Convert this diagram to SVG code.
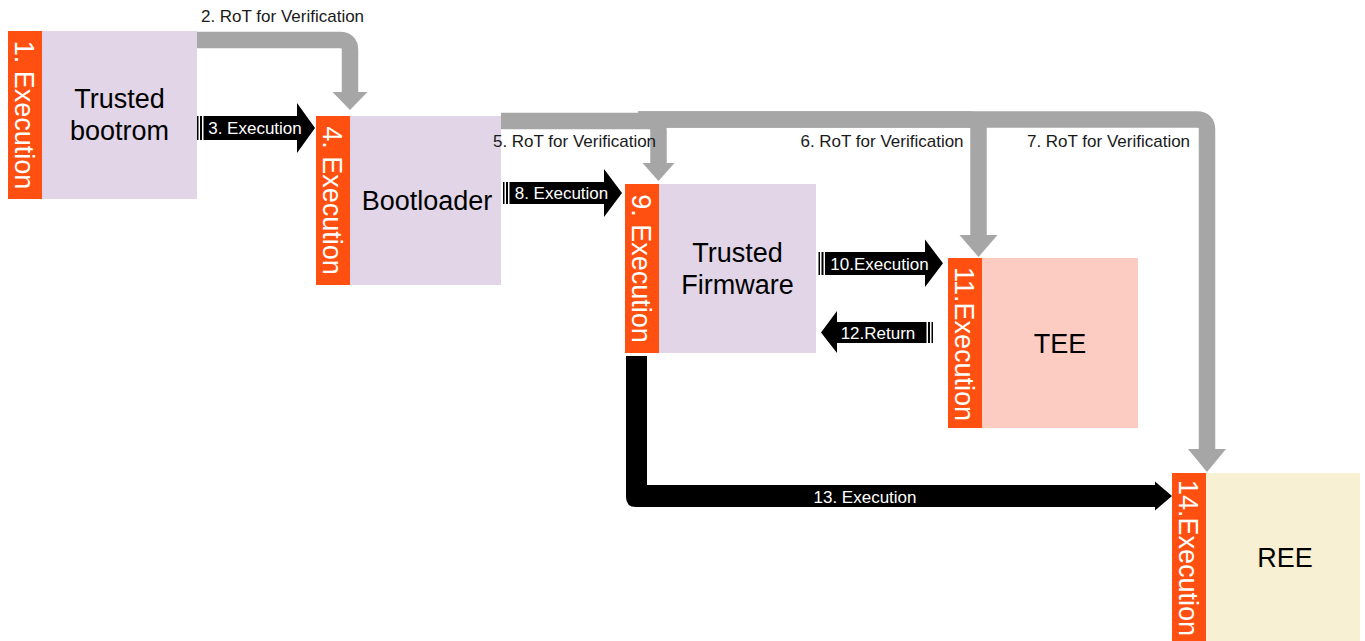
<svg xmlns="http://www.w3.org/2000/svg" width="1365" height="641" viewBox="0 0 1365 641">
<style>
text{font-family:"Liberation Sans",Arial,sans-serif}
.bar{fill:#FF5011}
.lav{fill:#E1D5E7}
.tee{fill:#FCCCC2}
.ree{fill:#F7F0D2}
.title{font-size:27px;fill:#000;text-anchor:middle}
.vl{font-size:27px;fill:#fff;text-anchor:middle}
.lbl{font-size:17px;fill:#1a1a1a;text-anchor:middle}
.wl{font-size:17px;fill:#fff;text-anchor:middle}
.g{fill:none;stroke:#A6A6A6;stroke-width:16.5}
.gh{fill:#A6A6A6}
.b{fill:#000}
</style>
<rect width="1365" height="641" fill="#fff"/>
<g id="n1">
  <rect class="lav" x="42" y="31" width="155" height="168"/>
  <rect class="bar" x="8" y="31" width="34" height="168"/>
  <text class="vl" transform="translate(25,115) rotate(90)" x="0" y="10">1. Execution</text>
  <text class="title" x="119.5" y="108">Trusted</text>
  <text class="title" x="119.5" y="140">bootrom</text>
</g>
<g id="n4">
  <rect class="lav" x="350" y="116" width="151" height="169"/>
  <rect class="bar" x="316" y="116" width="34" height="169"/>
  <text class="vl" transform="translate(333,200.5) rotate(90)" x="0" y="10">4. Execution</text>
  <text class="title" x="427" y="210">Bootloader</text>
</g>
<g id="n9">
  <rect class="lav" x="659" y="184" width="157" height="169"/>
  <rect class="bar" x="625" y="184" width="34" height="169"/>
  <text class="vl" transform="translate(642,268.5) rotate(90)" x="0" y="10">9. Execution</text>
  <text class="title" x="737.5" y="262">Trusted</text>
  <text class="title" x="737.5" y="294">Firmware</text>
</g>
<g id="n11">
  <rect class="tee" x="982" y="258" width="156" height="170"/>
  <rect class="bar" x="948" y="258" width="34" height="170"/>
  <text class="vl" transform="translate(965,344) rotate(90)" x="0" y="10">11.Execution</text>
  <text class="title" x="1060" y="353">TEE</text>
</g>
<g id="n14">
  <rect class="ree" x="1206" y="473" width="154" height="170"/>
  <rect class="bar" x="1172" y="473" width="34" height="170"/>
  <text class="vl" transform="translate(1189,558) rotate(90)" x="0" y="10">14.Execution</text>
  <text class="title" x="1285" y="567">REE</text>
</g>
<g id="connectors">
  <g id="e2">
    <path class="g" d="M197,40 H340 Q350,40 350,50 V93"/>
    <polygon class="gh" points="332.5,92 367.5,92 350,110"/>
    <text class="lbl" x="282.5" y="21.5">2. RoT for Verification</text>
  </g>
  <g id="e5">
    <path class="g" d="M501,121 H648.5 Q658.5,121 658.5,131 V164"/>
    <polygon class="gh" points="642.5,163 674.5,163 658.5,181"/>
    <text class="lbl" x="574.5" y="147">5. RoT for Verification</text>
  </g>
  <g id="e6">
    <path class="g" d="M638,119.5 H968.5 Q978.5,119.5 978.5,129.5 V236"/>
    <polygon class="gh" points="959.5,235 997.5,235 978.5,257"/>
    <text class="lbl" x="882" y="147">6. RoT for Verification</text>
  </g>
  <g id="e7">
    <path class="g" d="M638,119.5 H1197 Q1207,119.5 1207,129.5 V450"/>
    <polygon class="gh" points="1188,449 1226,449 1207,472"/>
    <text class="lbl" x="1108.5" y="147">7. RoT for Verification</text>
  </g>
  <g id="e3">
    <rect class="b" x="197" y="116" width="1.5" height="24"/>
    <rect class="b" x="200" y="116" width="2" height="24"/>
    <polygon class="b" points="203.5,116 297,116 297,103 315,128 297,153 297,140 203.5,140"/>
    <text class="wl" x="255" y="133.5">3. Execution</text>
  </g>
  <g id="e8">
    <rect class="b" x="503" y="182" width="1.5" height="22"/>
    <rect class="b" x="506" y="182" width="2" height="22"/>
    <polygon class="b" points="509.5,182 604,182 604,169 622,193 604,217 604,204 509.5,204"/>
    <text class="wl" x="561.5" y="199">8. Execution</text>
  </g>
  <g id="e10">
    <rect class="b" x="818.5" y="252" width="1.5" height="23"/>
    <rect class="b" x="821.5" y="252" width="2" height="23"/>
    <polygon class="b" points="825,252 925,252 925,239.5 943,263.3 925,287 925,275 825,275"/>
    <text class="wl" x="879.5" y="270">10.Execution</text>
  </g>
  <g id="e12">
    <rect class="b" x="931.5" y="322" width="1.5" height="21"/>
    <rect class="b" x="928" y="322" width="2" height="21"/>
    <polygon class="b" points="926.5,322 837,322 837,311 821,332.5 837,353 837,343 926.5,343"/>
    <text class="wl" x="878" y="338.5">12.Return</text>
  </g>
  <g id="e13">
    <path class="b" d="M626,356 H647 V485 H1155 V481.5 L1172,496 L1155,510.5 V507 H636 Q626,507 626,497 Z"/>
    <text class="wl" x="865" y="502.5">13. Execution</text>
  </g>
</g>
</svg>
